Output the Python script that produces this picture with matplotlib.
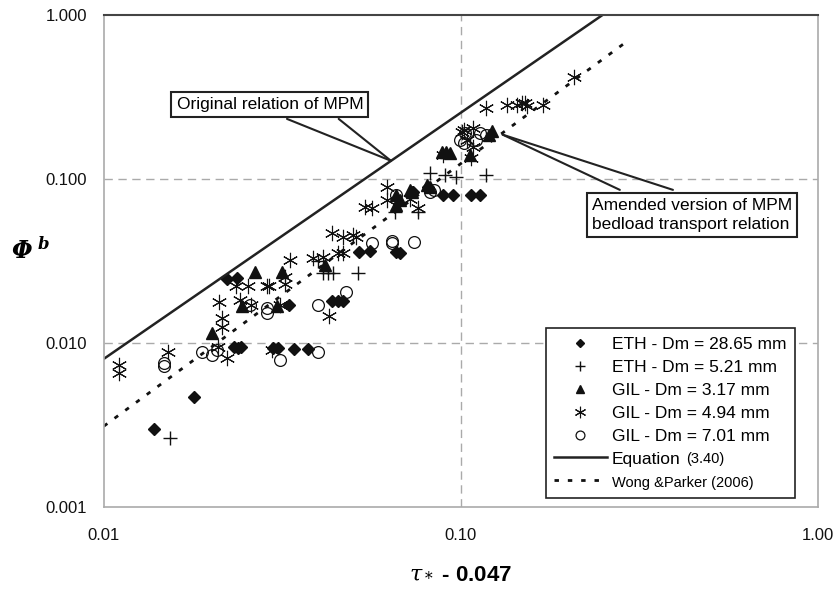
import matplotlib
matplotlib.use("Agg")
import matplotlib.pyplot as plt
import numpy as np

plt.rcParams['font.family'] = ['Liberation Sans', 'DejaVu Sans']
plt.rcParams['mathtext.fontset'] = 'custom'
plt.rcParams['mathtext.rm'] = 'DejaVu Serif'
plt.rcParams['mathtext.it'] = 'DejaVu Serif:italic'
plt.rcParams['mathtext.bf'] = 'DejaVu Serif:bold:italic'

# ETH - Dm = 28.65 mm (filled diamonds)
eth28_x = [0.0138, 0.0179, 0.0221, 0.0236, 0.0232, 0.0237, 0.0242, 0.0298, 0.0307, 0.0342,
           0.0373, 0.0330, 0.0435, 0.0452, 0.0467, 0.0518, 0.0556, 0.0658, 0.0675, 0.0734,
           0.0810, 0.0889, 0.0954, 0.107, 0.113]
eth28_y = [0.0030, 0.0047, 0.0245, 0.0250, 0.0094, 0.0093, 0.0094, 0.0093, 0.0093, 0.0092,
           0.0092, 0.0171, 0.0180, 0.0180, 0.0181, 0.0360, 0.0362, 0.0360, 0.0355, 0.0834,
           0.0890, 0.0800, 0.0800, 0.0800, 0.0795]

# ETH - Dm = 5.21 mm (plus)
eth5_x = [0.0153, 0.0410, 0.0425, 0.0440, 0.0515, 0.0655, 0.0757, 0.0819, 0.0902, 0.0969,
          0.118, 0.0397]
eth5_y = [0.00262, 0.0267, 0.0267, 0.0267, 0.0267, 0.063, 0.0625, 0.109, 0.106, 0.103,
          0.106, 0.0318]

# GIL - Dm = 3.17 mm (filled triangles)
gil3_x = [0.0201, 0.0244, 0.0266, 0.0305, 0.0315, 0.0416, 0.0658, 0.0660, 0.0720, 0.0730,
          0.0802, 0.0819, 0.0884, 0.0908, 0.0934, 0.106, 0.120, 0.122, 0.0675]
gil3_y = [0.0115, 0.0167, 0.0271, 0.0167, 0.0271, 0.0299, 0.080, 0.0694, 0.0857, 0.083,
          0.092, 0.089, 0.146, 0.146, 0.144, 0.140, 0.185, 0.195, 0.074]

# GIL - Dm = 4.94 mm (asterisks)
gil4_x = [0.0110, 0.0110, 0.0151, 0.0209, 0.0221, 0.0210, 0.0215, 0.0215, 0.0234, 0.0253,
          0.0240, 0.0259, 0.0286, 0.0290, 0.0322, 0.0322, 0.0332, 0.0311, 0.0295, 0.0385,
          0.0410, 0.0427, 0.0452, 0.0467, 0.0435, 0.0467, 0.0510, 0.0540, 0.0565, 0.0620,
          0.0623, 0.0757, 0.0720, 0.101, 0.108, 0.104, 0.108, 0.0889, 0.118, 0.1347,
          0.144, 0.151, 0.170, 0.148, 0.153, 0.208, 0.102, 0.107, 0.0500]
gil4_y = [0.00734, 0.0066, 0.0088, 0.0094, 0.0081, 0.0177, 0.0142, 0.0125, 0.0221, 0.0221,
          0.0183, 0.0171, 0.0221, 0.0221, 0.0252, 0.0230, 0.0321, 0.0171, 0.0091, 0.0329,
          0.0334, 0.0145, 0.0354, 0.0354, 0.047, 0.0443, 0.044, 0.067, 0.066, 0.0893,
          0.0745, 0.066, 0.075, 0.193, 0.205, 0.173, 0.157, 0.140, 0.271, 0.283,
          0.283, 0.290, 0.283, 0.290, 0.279, 0.419, 0.199, 0.134, 0.0456]

# GIL - Dm = 7.01 mm (open circles)
gil7_x = [0.0147, 0.0147, 0.0189, 0.0201, 0.0207, 0.0256, 0.0286, 0.0287, 0.0311, 0.0398,
          0.0398, 0.0476, 0.0565, 0.0642, 0.0642, 0.0740, 0.0820, 0.0840, 0.0994, 0.102,
          0.113, 0.118, 0.103, 0.110, 0.0660]
gil7_y = [0.0076, 0.0072, 0.0088, 0.0085, 0.0091, 0.0171, 0.0164, 0.0152, 0.0079, 0.0171,
          0.0088, 0.0205, 0.0407, 0.0420, 0.0407, 0.041, 0.083, 0.086, 0.173, 0.166,
          0.191, 0.185, 0.19, 0.173, 0.080]

# relations
mpm_coef, mpm_exp = 8.0, 1.5       # original MPM, Eq. (3.40)
wp_coef, wp_exp = 4.93, 1.6        # Wong & Parker (2006)

x_ticks = [0.01, 0.1, 1.0]
x_ticklabels = ['0.01', '0.10', '1.00']
y_ticks = [0.001, 0.01, 0.1, 1.0]
y_ticklabels = ['0.001', '0.010', '0.100', '1.000']

fig = plt.figure(figsize=(8.37, 5.91), dpi=100)
ax = fig.add_axes([0.124, 0.142, 0.853, 0.833])
ax.set_xscale('log')
ax.set_yscale('log')

k = '#111111'
ax.plot(eth28_x, eth28_y, 'D', ms=6, color=k, mec=k, ls='none', label='ETH - Dm = 28.65 mm')
ax.plot(eth5_x, eth5_y, '+', ms=10, mew=1.0, color=k, ls='none', label='ETH - Dm = 5.21 mm')
ax.plot(gil3_x, gil3_y, '^', ms=8, color=k, mec=k, ls='none', label='GIL - Dm = 3.17 mm')
ax.plot(gil4_x, gil4_y, marker=(6, 2, 0), ms=11, mew=0.8, color=k, ls='none', label='GIL - Dm = 4.94 mm')
ax.plot(gil7_x, gil7_y, 'o', ms=8.5, mfc='none', mec=k, mew=0.9, ls='none', label='GIL - Dm = 7.01 mm')

xs = np.logspace(-2, np.log10(0.265), 100)
ax.plot(xs, mpm_coef * xs ** mpm_exp, '-', color='#222222', lw=1.8, label='Equation')
xw = np.logspace(-2, np.log10(0.297), 100)
ax.plot(xw, wp_coef * xw ** wp_exp, color=k, lw=2.0, dashes=(1.6, 3.2), label='Wong &Parker (2006)')

ax.set_xlim(0.01, 1.0)
ax.set_ylim(0.001, 1.0)
ax.set_xticks(x_ticks)
ax.set_xticklabels(x_ticklabels)
ax.set_yticks(y_ticks)
ax.set_yticklabels(y_ticklabels)
ax.minorticks_off()
ax.tick_params(length=0, labelsize=12, colors='#111111')
ax.tick_params(axis='x', pad=15)
ax.tick_params(axis='y', pad=12)

for xv in [0.1]:
    ax.axvline(xv, color='#aaaaaa', lw=1.0, dashes=(6, 4), zorder=0)
for yv in [0.01, 0.1]:
    ax.axhline(yv, color='#aaaaaa', lw=1.0, dashes=(6, 4), zorder=0)

for s in ['left', 'bottom', 'right']:
    ax.spines[s].set_color('#aaaaaa')
    ax.spines[s].set_linewidth(1.2)
ax.spines['top'].set_color('#444444')
ax.spines['top'].set_linewidth(1.5)

ax.set_xlabel(r'$\tau_*$' + ' - 0.047', fontsize=16, fontweight='bold', labelpad=14)
ax.set_ylabel(r'$\mathbf{\Phi}^{\ \mathbf{b}}$', fontsize=17, rotation=0, ha='center', va='center')
ax.yaxis.set_label_coords(-0.103, 0.52)

# callouts
box = dict(boxstyle='square,pad=0.3', fc='white', ec='#222222', lw=1.5)
line = dict(arrowstyle='-', lw=1.5, color='#222222', shrinkA=0, shrinkB=0)
ax.text(0.0292, 0.283, 'Original relation of MPM', fontsize=12.5, ha='center', va='center',
        bbox=box, zorder=5)
ax.annotate('', xy=(0.0637, 0.129), xytext=(0.0326, 0.232), arrowprops=line, zorder=4)
ax.annotate('', xy=(0.0637, 0.129), xytext=(0.0455, 0.232), arrowprops=line, zorder=4)

ax.text(0.445, 0.0603, 'Amended version of MPM\nbedload transport relation', fontsize=12.5,
        ha='center', va='center', multialignment='left', linespacing=1.3, bbox=box, zorder=5)
ax.annotate('', xy=(0.131, 0.186), xytext=(0.279, 0.0857), arrowprops=line, zorder=4)
ax.annotate('', xy=(0.131, 0.186), xytext=(0.393, 0.0857), arrowprops=line, zorder=4)

leg = ax.legend(loc='lower right', bbox_to_anchor=(0.968, 0.018), borderaxespad=0,
                fontsize=12.5, frameon=True, fancybox=False, edgecolor='#222222',
                framealpha=1, handlelength=3.0, handletextpad=0.3, labelspacing=0.45,
                markerscale=0.75, borderpad=0.5)
leg.get_frame().set_linewidth(1.2)
leg.get_texts()[6].set_fontsize(10.5)

fig.canvas.draw()
t = leg.get_texts()[5]
bb = t.get_window_extent()
inv = fig.transFigure.inverted()
px, py = inv.transform((bb.x1 + 6, (bb.y0 + bb.y1) / 2))
fig.text(px, py, '(3.40)', fontsize=10.5, va='center', ha='left', zorder=10)

fig.savefig('out.png', dpi=100, facecolor='white')
